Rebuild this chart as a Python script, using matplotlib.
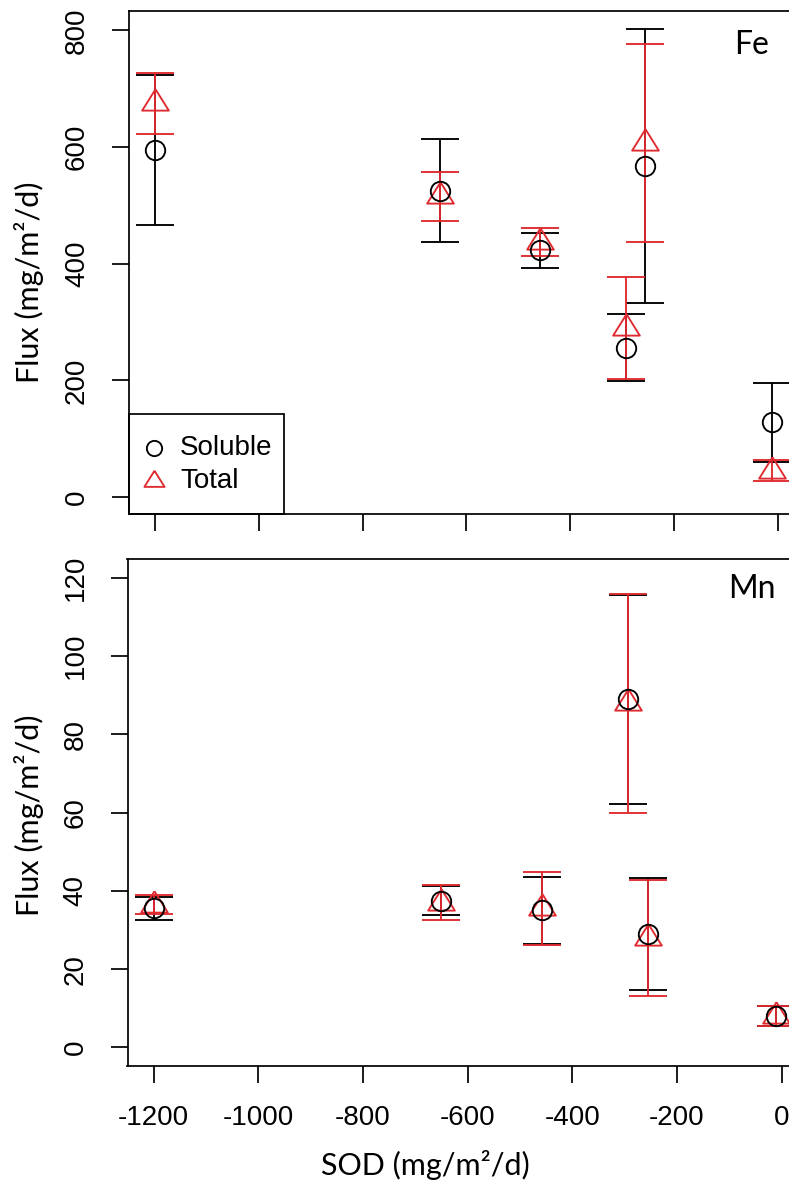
import matplotlib
matplotlib.use("Agg")
import matplotlib.pyplot as plt
from matplotlib.patches import Rectangle

plt.rcParams['axes.unicode_minus'] = False
plt.rcParams['font.family'] = ['Liberation Sans', 'DejaVu Sans']

# SOD (x) for each core
sod_fe = [-1200, -650, -458, -293, -255, -10]
fe_soluble = [595, 525, 423, 256, 567, 128]
fe_soluble_err = [128, 88, 30, 57, 235, 68]
fe_total = [675, 516, 438, 290, 607, 45]
fe_total_err = [52, 42, 24, 87, 170, 18]

sod_mn = [-1200, -650, -458, -293, -255, -10]
mn_soluble = [35.5, 37.5, 35, 89, 29, 8]
mn_soluble_err = [3, 3.8, 8.5, 26.7, 14.3, 2.5]
mn_total = [36.5, 37, 35.5, 88, 28, 8]
mn_total_err = [2.5, 4.4, 9.3, 28, 14.8, 2.5]

x_ticks = [-1200, -1000, -800, -600, -400, -200, 0]
fe_yticks = [0, 200, 400, 600, 800]
mn_yticks = [0, 20, 40, 60, 80, 100, 120]

RED = '#DF2A2F'
LW = 1.35
# R style open triangle (pch = 2), centroid at the point
tri = [(0, 1.067), (-1, -0.533), (1, -0.533), (0, 1.067)]

W, H = 789, 1181
fig = plt.figure(figsize=(W / 100, H / 100), dpi=100)

ax1 = fig.add_axes([129 / W, 1 - 514.4 / H, 669.4 / W, 503 / H])
ax2 = fig.add_axes([127.5 / W, 1 - 1065.7 / H, 675 / W, 507 / H])


def draw(ax, x, sol, sol_err, tot, tot_err):
    ax.errorbar(x, sol, yerr=sol_err, fmt='o', ms=14, mfc='none', mec='black',
                mew=LW, ecolor='black', elinewidth=LW, capsize=14, capthick=LW)
    ax.errorbar(x, tot, yerr=tot_err, fmt='none', ecolor=RED, elinewidth=LW,
                capsize=14, capthick=LW)
    ax.plot(x, tot, linestyle='none', marker=tri, ms=20.5, mfc='none', mec=RED, mew=LW)


draw(ax1, sod_fe, fe_soluble, fe_soluble_err, fe_total, fe_total_err)
draw(ax2, sod_mn, mn_soluble, mn_soluble_err, mn_total, mn_total_err)

ax1.set_xlim(-1250, 40)
ax1.set_ylim(-29.6, 832.4)
ax2.set_xlim(-1250, 40)
ax2.set_ylim(-4.7, 124.9)

for ax, yt in [(ax1, fe_yticks), (ax2, mn_yticks)]:
    ax.set_xticks(x_ticks)
    ax.set_yticks(yt)
    for s in ax.spines.values():
        s.set_linewidth(1.25)
    ax.tick_params(direction='out', length=12.5, width=1.25, labelsize=20, pad=15.5)
    ax.tick_params(axis='y', labelrotation=90)
    plt.setp(ax.get_yticklabels(), va='center')

ax1.tick_params(axis='x', labelbottom=False)

# legend, R style in the bottom-left corner
ax1.add_patch(Rectangle((0, 0), 0.2316, 0.2002, transform=ax1.transAxes,
                        fill=False, edgecolor='black', linewidth=1.25, clip_on=False))
ax1.plot([0.0373], [0.132], transform=ax1.transAxes, marker='o', ms=11,
         mfc='none', mec='black', mew=LW, linestyle='none')
ax1.plot([0.0373], [0.0664], transform=ax1.transAxes, marker=tri, ms=15.5,
         mfc='none', mec=RED, mew=LW, linestyle='none')
ax1.text(0.0762, 0.132, 'Soluble', transform=ax1.transAxes, fontsize=20, va='center')
ax1.text(0.0762, 0.0664, 'Total', transform=ax1.transAxes, fontsize=20, va='center')

lab = dict(family=['Lato', 'DejaVu Sans'], fontsize=22)
fig.text(29.5 / W, 1 - 282 / H, 'Flux (mg/m²/d)', rotation=90, ha='center', va='center', **lab)
fig.text(29.5 / W, 1 - 815 / H, 'Flux (mg/m²/d)', rotation=90, ha='center', va='center', **lab)
fig.text(425 / W, 1 - 1165 / H, 'SOD (mg/m²/d)', ha='center', va='center', **lab)
fig.text(751.5 / W, 1 - 45.5 / H, 'Fe', ha='center', va='center', family=['Lato', 'DejaVu Sans'], fontsize=23)
fig.text(752 / W, 1 - 589 / H, 'Mn', ha='center', va='center', family=['Lato', 'DejaVu Sans'], fontsize=23)

fig.savefig('out.png', dpi=100)
